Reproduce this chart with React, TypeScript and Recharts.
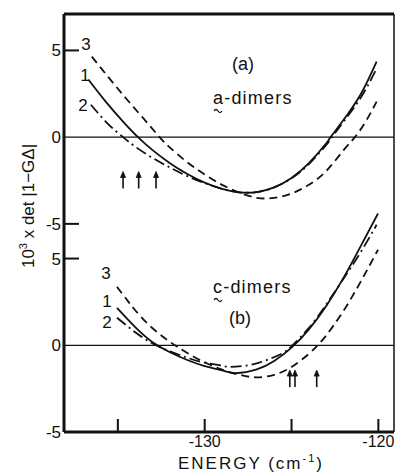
import React from 'react'
import { ComposedChart, Line, Scatter, XAxis, YAxis, ReferenceLine } from 'recharts'

// energy axis (cm^-1)
const energyDomain = [-138.1, -119.1]
const energyTicks = [-135, -130, -125, -120]
const energyLabels = [-130, -120]
const detTicks = [5, 0, -5]

// (a) a-dimers, 10^3 x det|1-GΔ|
const a1Energy = [-136.7, -135.7, -134.7, -133.84, -133, -132, -131, -130, -129, -128, -127, -126, -125, -124, -123, -122.75, -122, -121, -120.1]
const a1Det = [3.32, 2.05, 0.9, 0.0, -0.75, -1.5, -2.12, -2.62, -2.98, -3.18, -3.17, -2.9, -2.35, -1.5, -0.35, 0.0, 1.0, 2.5, 4.35]
const a2Energy = [-136.55, -135.6, -134.7, -134, -133, -132, -131, -130, -129, -128, -127, -126, -125, -124, -123, -122.7, -122, -121, -120.1]
const a2Det = [1.87, 0.8, 0.0, -0.55, -1.2, -1.75, -2.25, -2.65, -2.98, -3.18, -3.17, -2.9, -2.37, -1.55, -0.45, -0.05, 0.9, 2.3, 3.95]
const a3Energy = [-136.5, -135.5, -134.5, -133.5, -132.6, -132, -131, -130, -129, -128, -127, -126, -125, -124, -123, -122, -121.35, -120.7, -120.1]
const a3Det = [4.64, 3.4, 2.2, 1.05, 0.0, -0.6, -1.45, -2.15, -2.75, -3.2, -3.5, -3.5, -3.25, -2.75, -1.95, -0.75, 0.0, 0.95, 2.05]
const aArrows = [-134.7, -133.8, -132.8]

// (b) c-dimers
const b1Energy = [-135.05, -134, -133, -132, -131, -130, -129, -128.2, -127, -126, -125, -124, -123, -122, -121, -120.02]
const b1Det = [2.16, 1.05, 0.18, -0.4, -0.85, -1.2, -1.45, -1.6, -1.39, -0.91, -0.14, 0.92, 2.27, 3.9, 5.75, 7.6]
const b2Energy = [-135.05, -134, -133, -132, -131, -130, -129, -128.5, -127.5, -126.5, -125.5, -124.95, -124, -123, -122, -121, -120.1]
const b2Det = [1.59, 0.75, 0.1, -0.35, -0.72, -1.0, -1.18, -1.24, -1.15, -0.88, -0.45, 0.0, 1.0, 2.35, 3.85, 5.4, 6.95]
const b3Energy = [-135.05, -134.5, -134, -133, -132, -131.71, -131, -130, -129, -128, -127, -126, -125, -124, -123.5, -123, -122, -121, -120.02]
const b3Det = [3.37, 2.65, 2.02, 0.98, 0.2, 0.0, -0.45, -0.98, -1.4, -1.7, -1.85, -1.7, -1.25, -0.49, 0.0, 0.57, 2.0, 3.7, 5.51]
const bArrows = [-125.1, -124.8, -123.55]

const W = 395
const H = 472
const PL = 64
const PT = 14
const PB = 432
const M = { top: PT - 1, right: 1, bottom: H - PB - 1, left: PL - 2 }
const INK = '#111'
const FONT = '"Liberation Sans", Arial, sans-serif'

const zip = (xs: number[], ys: number[]) => xs.map((x, i) => ({ x, y: ys[i] }))

const YTick = (props: any) => {
  const { y, payload } = props
  const v = payload.value
  return (
    <g>
      {v !== 0 && <line x1={PL} x2={PL + 15} y1={y} y2={y} stroke={INK} strokeWidth={2} />}
      <text x={PL - 3} y={y + 6} textAnchor="end" fontSize={17} fontFamily={FONT} fill={INK}>
        {v < 0 ? '-' + Math.abs(v) : v}
      </text>
    </g>
  )
}

const BottomTick = (props: any) => {
  const { x, payload } = props
  return (
    <g>
      <line x1={x} x2={x} y1={PB} y2={PB - 13} stroke={INK} strokeWidth={2} />
      {energyLabels.includes(payload.value) && (
        <text x={x} y={PB + 15} textAnchor="middle" fontSize={16} fontFamily={FONT} fill={INK}>
          {'-' + Math.abs(payload.value)}
        </text>
      )}
    </g>
  )
}

const TopTick = (props: any) => {
  const { x } = props
  return <line x1={x} x2={x} y1={PT} y2={PT + 14} stroke={INK} strokeWidth={2} />
}

const Arrow = (props: any) => {
  const { cx, cy } = props
  return (
    <g stroke={INK} strokeWidth={1.6} fill={INK}>
      <line x1={cx} x2={cx} y1={cy + 8} y2={cy - 5} />
      <path d={`M${cx - 2.5},${cy - 3} L${cx},${cy - 9} L${cx + 2.5},${cy - 3} Z`} strokeWidth={0.8} />
    </g>
  )
}

const Tilde = ({ x, y }: { x: number; y: number }) => (
  <path d={`M${x - 4},${y + 1} q2,-3 4,0 t4,0`} stroke={INK} strokeWidth={1.3} fill="none" />
)

export default function App() {
  const dashed = '8 5'
  const dashDot = '11 4 2 4'
  return (
    <div style={{ position: 'absolute', left: 0, top: 0, width: W, height: H, background: '#fff' }}>
      <ComposedChart width={W} height={H} margin={M}>
        <XAxis
          dataKey="x"
          type="number"
          domain={energyDomain}
          ticks={energyTicks}
          height={1}
          tickSize={0}
          tick={<BottomTick />}
          axisLine={{ stroke: INK, strokeWidth: 3 }}
        />
        <XAxis
          xAxisId="top"
          orientation="top"
          type="number"
          domain={energyDomain}
          ticks={energyTicks}
          height={1}
          tickSize={0}
          tick={<TopTick />}
          axisLine={{ stroke: INK, strokeWidth: 3 }}
        />
        <YAxis
          yAxisId="a"
          type="number"
          domain={[-17, 7.1]}
          ticks={detTicks}
          width={1}
          tickSize={0}
          tick={<YTick />}
          axisLine={{ stroke: INK, strokeWidth: 3 }}
        />
        <YAxis
          yAxisId="b"
          type="number"
          domain={[-5, 19.1]}
          ticks={detTicks}
          width={1}
          tickSize={0}
          tick={<YTick />}
          axisLine={false}
        />
        <ReferenceLine x={energyDomain[1]} yAxisId="a" stroke={INK} strokeWidth={1.5} />
        <ReferenceLine y={0} yAxisId="a" stroke={INK} strokeWidth={1.2} />
        <ReferenceLine y={0} yAxisId="b" stroke={INK} strokeWidth={1.2} />

        <Line data={zip(a1Energy, a1Det)} dataKey="y" yAxisId="a" type="natural" stroke={INK} strokeWidth={1.8} dot={false} isAnimationActive={false} />
        <Line data={zip(a2Energy, a2Det)} dataKey="y" yAxisId="a" type="natural" stroke={INK} strokeWidth={1.8} strokeDasharray={dashDot} dot={false} isAnimationActive={false} />
        <Line data={zip(a3Energy, a3Det)} dataKey="y" yAxisId="a" type="natural" stroke={INK} strokeWidth={1.8} strokeDasharray={dashed} dot={false} isAnimationActive={false} />
        <Line data={zip(b1Energy, b1Det)} dataKey="y" yAxisId="b" type="natural" stroke={INK} strokeWidth={1.8} dot={false} isAnimationActive={false} />
        <Line data={zip(b2Energy, b2Det)} dataKey="y" yAxisId="b" type="natural" stroke={INK} strokeWidth={1.8} strokeDasharray={dashDot} dot={false} isAnimationActive={false} />
        <Line data={zip(b3Energy, b3Det)} dataKey="y" yAxisId="b" type="natural" stroke={INK} strokeWidth={1.8} strokeDasharray={dashed} dot={false} isAnimationActive={false} />

        <Scatter data={aArrows.map((x) => ({ x, y: -2.5 }))} dataKey="y" yAxisId="a" shape={<Arrow />} isAnimationActive={false} />
        <Scatter data={bArrows.map((x) => ({ x, y: -1.95 }))} dataKey="y" yAxisId="b" shape={<Arrow />} isAnimationActive={false} />
      </ComposedChart>

      <svg width={W} height={H} style={{ position: 'absolute', left: 0, top: 0, pointerEvents: 'none' }} fontFamily={FONT} fill={INK}>
        <text x={243} y={70} textAnchor="middle" fontSize={18}>(a)</text>
        <text x={213} y={104} fontSize={18} letterSpacing={1.2}>a-dimers</text>
        <Tilde x={218} y={110} />
        <text x={213} y={293} fontSize={18} letterSpacing={1.2}>c-dimers</text>
        <Tilde x={218} y={299} />
        <text x={240} y={324} textAnchor="middle" fontSize={18}>(b)</text>

        <text x={86} y={50} textAnchor="middle" fontSize={17}>3</text>
        <text x={85} y={81} textAnchor="middle" fontSize={17}>1</text>
        <text x={83} y={111} textAnchor="middle" fontSize={17}>2</text>
        <text x={106} y={279} textAnchor="middle" fontSize={17}>3</text>
        <text x={107} y={307} textAnchor="middle" fontSize={17}>1</text>
        <text x={107} y={328} textAnchor="middle" fontSize={17}>2</text>

        <text transform="translate(34,206) rotate(-90)" textAnchor="middle" fontSize={17}>
          10<tspan fontSize={11} dy={-7}>3</tspan><tspan dy={7}> x det |1−GΔ|</tspan>
        </text>
        <text x={251} y={469} textAnchor="middle" fontSize={17} letterSpacing={2}>
          ENERGY (cm<tspan fontSize={11} dy={-7}>-1</tspan><tspan dy={7}>)</tspan>
        </text>
      </svg>
    </div>
  )
}
